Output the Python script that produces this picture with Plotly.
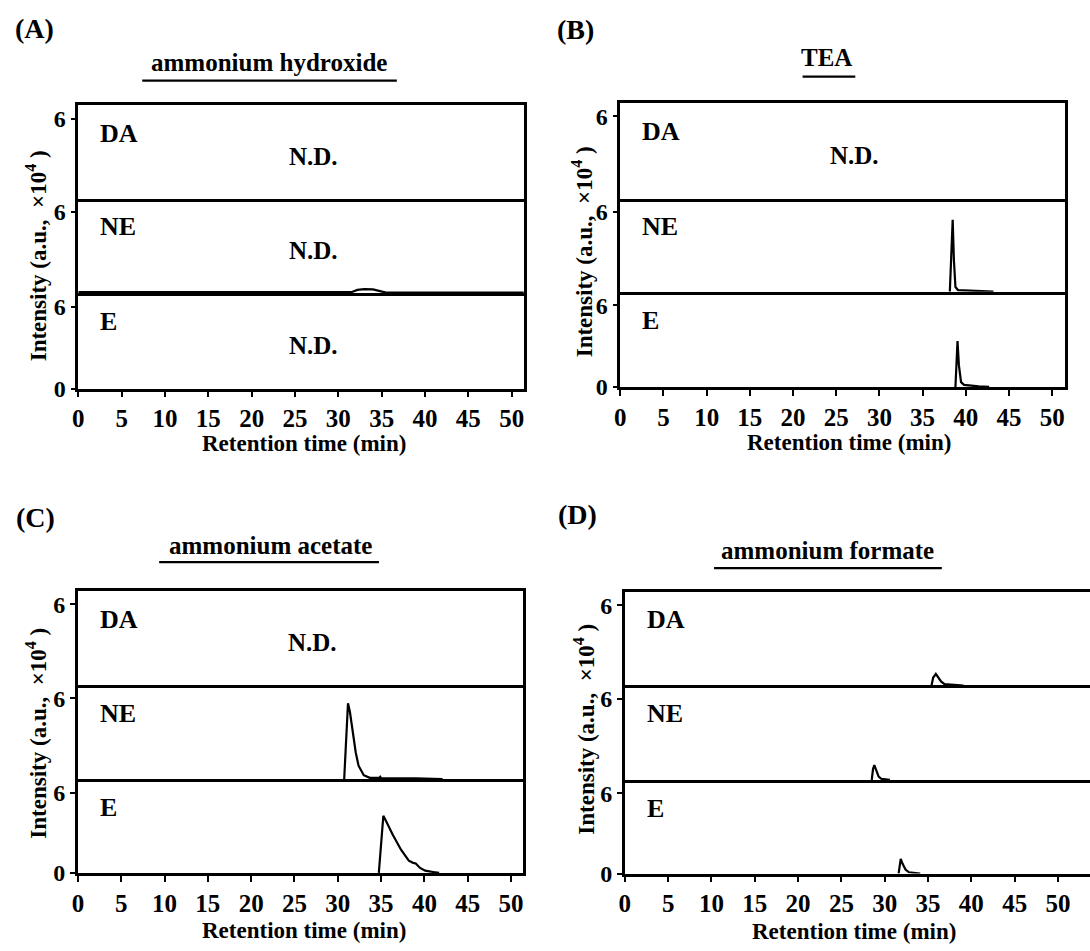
import plotly.graph_objects as go

W, H = 1090, 951

PANEL_LETTERS = ["(A)", "(B)", "(C)", "(D)"]
PANEL_TITLES = ["ammonium hydroxide", "TEA", "ammonium acetate", "ammonium formate"]
ROW_LABELS = ["DA", "NE", "E"]
X_TICKS = list(range(0, 51, 5))
X_TITLE = "Retention time (min)"
Y_TITLE = "Intensity (a.u., \u00a0×10<sup>4</sup>\u00a0)"

# Chromatogram peaks: retention time (min) and intensity (a.u., x10^4).
# Rows marked N.D. have no signal and get no trace.
# (A) ammonium hydroxide
A_NE_T = [0, 31.5, 32.2, 33.0, 34.0, 34.8, 35.5, 51.4]
A_NE_I = [0.08, 0.08, 0.25, 0.3, 0.28, 0.15, 0.05, 0.05]
# (B) TEA
B_NE_T = [38.15, 38.3, 38.48, 38.62, 38.8, 39.1, 41.0, 43.0, 43.2]
B_NE_I = [0, 2.6, 5.4, 2.4, 0.35, 0.12, 0.08, 0.06, 0]
B_E_T = [38.8, 38.92, 39.04, 39.2, 39.45, 39.8, 40.5, 41.5, 42.7]
B_E_I = [0, 1.8, 3.37, 1.6, 0.35, 0.15, 0.1, 0.04, 0]
# (C) ammonium acetate
C_NE_T = [30.74, 31.0, 31.18, 31.4, 31.7, 32.07, 32.4, 33.0, 33.7, 34.8, 34.9,
          35.0, 39.0, 42.0, 42.1]
C_NE_I = [0, 3.5, 5.63, 5.0, 3.7, 2.0, 1.0, 0.3, 0.1, 0.1, 0.18,
          0.08, 0.07, 0.04, 0]
C_E_T = [34.74, 35.0, 35.26, 35.6, 36.35, 37.3, 38.2, 38.7, 39.0, 39.5, 40.1,
         41.0, 41.7]
C_E_I = [0, 2.5, 4.26, 3.84, 2.85, 1.73, 0.91, 0.75, 0.7, 0.37, 0.17,
         0.07, 0]
# (D) ammonium formate
D_DA_T = [35.4, 35.6, 35.9, 36.2, 36.5, 36.9, 38.0, 39.0, 39.1]
D_DA_I = [0, 0.6, 0.86, 0.6, 0.3, 0.1, 0.05, 0.05, 0]
D_NE_T = [28.5, 28.65, 28.8, 29.0, 29.3, 29.6, 30.5, 30.6]
D_NE_I = [0, 0.8, 1.1, 0.7, 0.25, 0.08, 0.04, 0]
D_E_T = [31.6, 31.72, 31.85, 32.05, 32.4, 32.8, 33.5, 34.0, 34.1]
D_E_I = [0, 0.8, 1.1, 0.75, 0.3, 0.1, 0.04, 0.03, 0]

# rows DA / NE / E of each panel; None means not detected
SERIES = [
    [None, (A_NE_T, A_NE_I), None],
    [None, (B_NE_T, B_NE_I), (B_E_T, B_E_I)],
    [None, (C_NE_T, C_NE_I), (C_E_T, C_E_I)],
    [(D_DA_T, D_DA_I), (D_NE_T, D_NE_I), (D_E_T, D_E_I)],
]
# A/NE shows only a faint baseline drift, reported as not detected
ND_EXTRA = {(0, 1)}

# panel frames in pixels: left, right, row edges (top..bottom), x max, right border
FRAMES = [
    dict(l=72.7, r=520.7, rows=[106.7, 201.3, 297.3, 394.0], xmax=51.4, rb=True),
    dict(l=617.7, r=1065.0, rows=[104.0, 201.3, 295.7, 392.3], xmax=51.5, rb=True),
    dict(l=72.3, r=520.0, rows=[599.0, 694.3, 790.0, 885.0], xmax=51.4, rb=True),
    dict(l=622.3, r=1090.0, rows=[600.0, 695.0, 790.7, 885.7], xmax=53.7, rb=False),
]
LETTER_POS = [(29, 29), (573, 30), (30, 525), (575, 522)]
TITLE_POS = [(264, 63), (825, 58), (266, 553), (826, 558)]
UNDERLINES = [(137, 393, 81.7), (801, 854, 77.7), (154, 375, 570), (712, 941, 576)]
YTITLE_POS = [(31, 259), (580, 255), (31, 743), (582, 739)]
XTITLE_POS = [(300, 450), (848, 449), (300, 943), (853, 944)]

FONT = "Liberation Serif"
LW = 2.5


def px(x):
    return x / W


def py(y):
    return 1 - y / H


def bold(size):
    return dict(family=FONT, size=size, color="black", weight="bold")


fig = go.Figure()
layout = dict(width=W, height=H, margin=dict(l=0, r=0, t=0, b=0),
              plot_bgcolor="white", paper_bgcolor="white", showlegend=False)
annotations = []
shapes = []

for p, frame in enumerate(FRAMES):
    for r in range(3):
        k = p * 3 + r + 1
        xa = "xaxis" if k == 1 else f"xaxis{k}"
        ya = "yaxis" if k == 1 else f"yaxis{k}"
        xr = "x" if k == 1 else f"x{k}"
        yr = "y" if k == 1 else f"y{k}"
        bottom = r == 2
        top_px, bot_px = frame["rows"][r], frame["rows"][r + 1]
        # only the top row carries the upper border; lower rows share the
        # divider drawn by the bottom line of the row above
        layout[xa] = dict(
            domain=[px(frame["l"]), px(frame["r"])], anchor=yr,
            range=[0, frame["xmax"]], showgrid=False, zeroline=False,
            showline=True, linecolor="black", linewidth=LW, mirror=(r == 0),
            tickvals=X_TICKS if bottom else [], ticks="outside" if bottom else "",
            ticklen=6, tickwidth=2, tickcolor="black",
            showticklabels=bottom, tickfont=bold(25),
        )
        layout[ya] = dict(
            domain=[py(bot_px), py(top_px)], anchor=xr,
            range=[0, 7], showgrid=False, zeroline=False,
            showline=True, linecolor="black", linewidth=LW, mirror=frame["rb"],
            tickvals=[0, 6] if bottom else [6], ticks="outside",
            ticklen=5, tickwidth=2, tickcolor="black", tickfont=bold(24),
        )
        s = SERIES[p][r]
        if s is not None:
            t, v = s
            fig.add_trace(go.Scatter(x=t, y=v, mode="lines", xaxis=xr, yaxis=yr,
                                     line=dict(color="black", width=2.2),
                                     hoverinfo="skip"))
        annotations.append(dict(x=2.3, y=4.9, xref=xr, yref=yr, text=ROW_LABELS[r],
                                showarrow=False, xanchor="left", yanchor="middle",
                                font=bold(26)))
        if s is None or (p, r) in ND_EXTRA:
            annotations.append(dict(x=27.1, y=3.15, xref=xr, yref=yr, text="N.D.",
                                    showarrow=False, xanchor="center", yanchor="middle",
                                    font=bold(25)))

    lx, ly = LETTER_POS[p]
    annotations.append(dict(x=px(lx), y=py(ly), xref="paper", yref="paper",
                            text=PANEL_LETTERS[p], showarrow=False,
                            xanchor="center", yanchor="middle", font=bold(28)))
    tx, ty = TITLE_POS[p]
    annotations.append(dict(x=px(tx), y=py(ty), xref="paper", yref="paper",
                            text=PANEL_TITLES[p], showarrow=False,
                            xanchor="center", yanchor="middle", font=bold(25)))
    ux0, ux1, uy = UNDERLINES[p]
    shapes.append(dict(type="line", xref="paper", yref="paper",
                       x0=px(ux0), x1=px(ux1), y0=py(uy), y1=py(uy),
                       line=dict(color="black", width=2.2)))
    yx, yy = YTITLE_POS[p]
    annotations.append(dict(x=px(yx), y=py(yy), xref="paper", yref="paper",
                            text=Y_TITLE, textangle=-90, showarrow=False,
                            xanchor="center", yanchor="middle", font=bold(23)))
    xx, xy = XTITLE_POS[p]
    annotations.append(dict(x=px(xx), y=py(xy), xref="paper", yref="paper",
                            text=X_TITLE, showarrow=False,
                            xanchor="center", yanchor="middle", font=bold(23)))

layout["annotations"] = annotations
layout["shapes"] = shapes
fig.update_layout(**layout)
fig.write_html("out.html")
